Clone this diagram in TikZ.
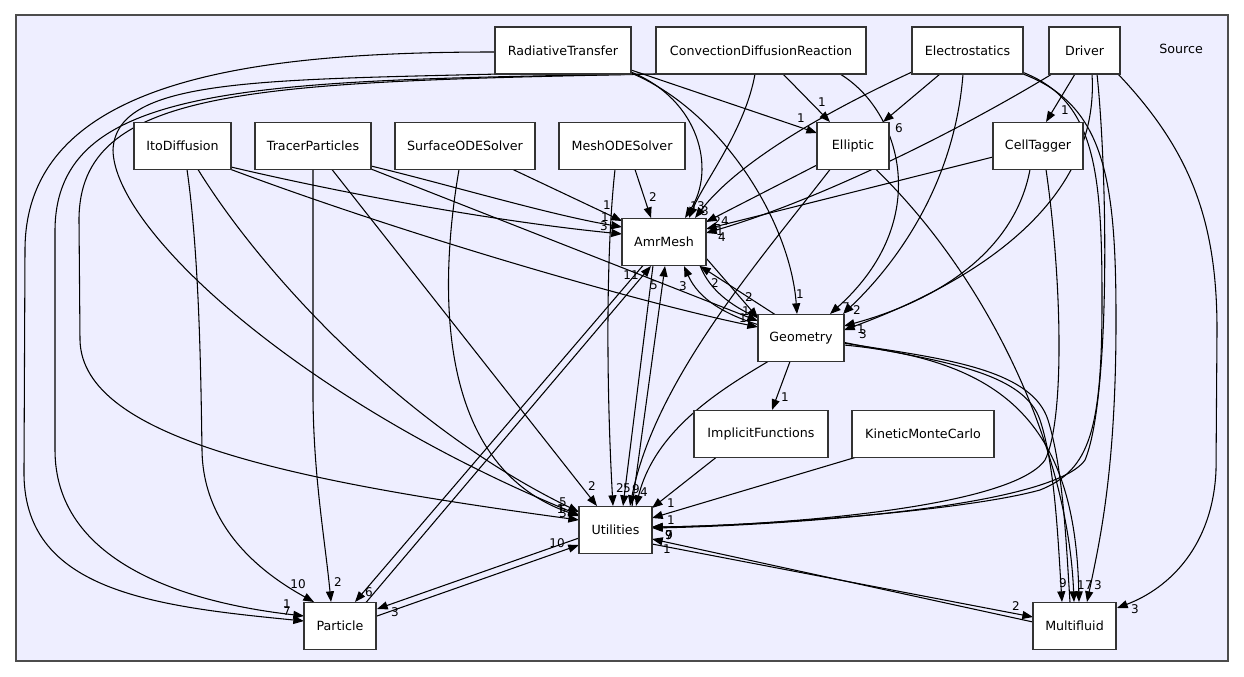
\documentclass[tikz,border=0pt]{standalone}
\usepackage{fontspec}
\setmainfont{DejaVu Sans}
\usetikzlibrary{arrows.meta}
\pgfdeclarelayer{bg}
\pgfdeclarelayer{edges}
\pgfsetlayers{bg,edges,main}
\begin{document}
\begin{tikzpicture}[x=0.75pt,y=-0.75pt,
  box/.style={draw=black!80, fill=white, line width=0.8pt, minimum height=35.25pt, inner sep=0pt, font=\fontsize{9.5}{11}\selectfont},
  dep/.style={draw=black, line width=0.8pt, -{Triangle[length=8pt,width=6pt]}},
  lbl/.style={font=\fontsize{9}{10}\selectfont, inner sep=0pt},
  cluster/.style={draw=black!70, fill={rgb,255:red,238;green,238;blue,255}, line width=1pt}]
\useasboundingbox (0,0) rectangle (1244,677);
% nodes
\node[box, minimum width=102pt]   (RT)   at (563,50.5)   {RadiativeTransfer};
\node[box, minimum width=157.5pt] (CDR)  at (761,50.5)   {ConvectionDiffusionReaction};
\node[box, minimum width=83.25pt] (ES)   at (967.5,50.5) {Electrostatics};
\node[box, minimum width=53.25pt] (DR)   at (1084.5,50.5){Driver};
\node[font=\fontsize{9.5}{11}\selectfont] (SRC) at (1181,49) {Source};
\node[box, minimum width=72.75pt] (ITO)  at (182.5,146)  {ItoDiffusion};
\node[box, minimum width=87pt]    (TP)   at (313,146)    {TracerParticles};
\node[box, minimum width=105pt]   (SODE) at (465,146)    {SurfaceODESolver};
\node[box, minimum width=94.5pt]  (MODE) at (622,146)    {MeshODESolver};
\node[box, minimum width=54pt]    (ELL)  at (853,146)    {Elliptic};
\node[box, minimum width=67.5pt]  (CT)   at (1038,146)   {CellTagger};
\node[box, minimum width=63pt]    (AMR)  at (664,242)    {AmrMesh};
\node[box, minimum width=64.5pt]  (GEO)  at (801,338)    {Geometry};
\node[box, minimum width=100.5pt] (IF)   at (761,434)    {ImplicitFunctions};
\node[box, minimum width=106.5pt] (KMC)  at (923,434)    {KineticMonteCarlo};
\node[box, minimum width=54.75pt] (UT)   at (615.5,530)  {Utilities};
\node[box, minimum width=54pt]    (PA)   at (340,626)    {Particle};
\node[box, minimum width=62.25pt] (MF)   at (1074.5,626) {Multifluid};
\begin{pgfonlayer}{bg}
\fill[white] (0,0) rectangle (1244,677);
\draw[cluster] (16,15) rectangle (1228,661);
\end{pgfonlayer}
\begin{pgfonlayer}{edges}
% RadiativeTransfer / ConvectionDiffusionReaction
\draw[dep] ([shift={(-68,1.5)}]RT.center) .. controls (250,52) and (25,80) .. (25,250) -- (24,470) .. controls (22,590) and (150,606) .. ([shift={(-36,-5)}]PA.center) node[lbl] at (287,604) {1};
\draw[dep] ([shift={(-105,23.5)}]CDR.center) .. controls (250,80) and (56,84) .. (55,230) -- (55,450) .. controls (55,560) and (180,602) .. ([shift={(-36,-10)}]PA.center) node[lbl] at (287,611) {7};
\draw[dep] ([shift={(-104,23.5)}]CDR.center) .. controls (250,82) and (79,88) .. (79,220) -- (80,340) .. controls (82,440) and (300,482) .. ([shift={(-36.5,-10)}]UT.center) node[lbl] at (561,509) {1};
\draw[dep] ([shift={(-63,23.5)}]RT.center) .. controls (250,80) and (116,80) .. (113,150) .. controls (114,230) and (300,400) .. ([shift={(-36.5,-15)}]UT.center) node[lbl] at (563,513) {3};
\draw[dep] ([shift={(68,19.5)}]RT.center) -- ([shift={(-36,-13)}]ELL.center) node[lbl] at (801,118) {1};
\draw[dep] ([shift={(68,21.5)}]RT.center) .. controls (700,100) and (716,170) .. ([shift={(21,-24)}]AMR.center) node[lbl] at (701,206) {3};
\draw[dep] ([shift={(68,22.5)}]RT.center) .. controls (720,110) and (790,220) .. ([shift={(-4,-24)}]GEO.center) node[lbl] at (800,294) {1};
\draw[dep] ([shift={(-6,23.5)}]CDR.center) .. controls (745,130) and (705,180) .. ([shift={(25,-24)}]AMR.center) node[lbl] at (694,206) {1};
\draw[dep] ([shift={(22,23.5)}]CDR.center) -- ([shift={(-23,-24)}]ELL.center) node[lbl] at (822,102) {1};
\draw[dep] ([shift={(79,23.5)}]CDR.center) .. controls (900,110) and (935,220) .. ([shift={(29,-24)}]GEO.center) node[lbl] at (846,307) {7};
% Electrostatics
\draw[dep] ([shift={(-55.5,21.5)}]ES.center) .. controls (830,110) and (740,160) .. ([shift={(31,-24)}]AMR.center) node[lbl] at (705,211) {3};
\draw[dep] ([shift={(-27.5,23.5)}]ES.center) -- ([shift={(30,-24)}]ELL.center) node[lbl] at (899,128) {6};
\draw[dep] ([shift={(-4.5,23.5)}]ES.center) .. controls (955,180) and (900,260) .. ([shift={(42,-24)}]GEO.center) node[lbl] at (857,310) {2};
\draw[dep] ([shift={(54.5,21.5)}]ES.center) .. controls (1095,100) and (1102,170) .. (1102,300) .. controls (1102,430) and (1090,470) .. (1040,490) .. controls (960,512) and (750,526) .. ([shift={(36.5,-3)}]UT.center) node[lbl] at (669,535) {9};
\draw[dep] ([shift={(55.5,23.5)}]ES.center) .. controls (1105,105) and (1116,180) .. (1116,320) .. controls (1116,470) and (1100,540) .. ([shift={(12.5,-24)}]MF.center) node[lbl] at (1098,585) {3};
% Driver
\draw[dep] ([shift={(-9.5,23.5)}]DR.center) -- ([shift={(8,-24)}]CT.center) node[lbl] at (1065,110) {1};
\draw[dep] ([shift={(-32.5,23.5)}]DR.center) .. controls (960,130) and (820,200) .. ([shift={(42,-9)}]AMR.center) node[lbl] at (722,237) {4};
\draw[dep] ([shift={(7.5,23.5)}]DR.center) .. controls (1100,200) and (980,280) .. ([shift={(43,-8)}]GEO.center) node[lbl] at (863,334) {3};
\draw[dep] ([shift={(12.5,23.5)}]DR.center) .. controls (1108,180) and (1110,400) .. (1085,460) .. controls (1050,510) and (760,526) .. ([shift={(36.5,-2)}]UT.center) node[lbl] at (669,535) {7};
\draw[dep] ([shift={(33.5,23.5)}]DR.center) .. controls (1190,150) and (1217,220) .. (1217,330) -- (1216,470) .. controls (1213,545) and (1170,588) .. ([shift={(42.5,-18)}]MF.center) node[lbl] at (1135,609) {3};
% CellTagger
\draw[dep] ([shift={(-45,11)}]CT.center) -- ([shift={(42,-13)}]AMR.center) node[lbl] at (720,231) {1};
\draw[dep] ([shift={(-8,23.5)}]CT.center) .. controls (1015,250) and (940,300) .. ([shift={(43,-12)}]GEO.center) node[lbl] at (861,329) {1};
\draw[dep] ([shift={(8,23.5)}]CT.center) .. controls (1062,280) and (1065,420) .. (1045,460) .. controls (1010,510) and (760,526) .. ([shift={(36.5,-3)}]UT.center) node[lbl] at (669,535) {9};
% ItoDiffusion
\draw[dep] ([shift={(48.5,21)}]ITO.center) .. controls (350,195) and (500,222) .. ([shift={(-42,-8)}]AMR.center) node[lbl] at (604,226) {3};
\draw[dep] ([shift={(48.5,23.5)}]ITO.center) .. controls (420,240) and (650,305) .. ([shift={(-43,-11)}]GEO.center) node[lbl] at (743,318) {1};
\draw[dep] ([shift={(15.5,23.5)}]ITO.center) .. controls (260,270) and (400,425) .. ([shift={(-36.5,-18)}]UT.center) node[lbl] at (563,502) {5};
\draw[dep] ([shift={(4.5,23.5)}]ITO.center) .. controls (200,260) and (201,390) .. (202,450) .. controls (203,530) and (265,575) .. ([shift={(-26,-24)}]PA.center) node[lbl] at (298,584) {10};
% TracerParticles
\draw[dep] ([shift={(58,20)}]TP.center) .. controls (450,185) and (550,215) .. ([shift={(-42,-15)}]AMR.center) node[lbl] at (605,217) {1};
\draw[dep] ([shift={(58,23)}]TP.center) -- ([shift={(-43,-17)}]GEO.center) node[lbl] at (746,311) {1};
\draw[dep] ([shift={(19,23.5)}]TP.center) -- ([shift={(-18.5,-24)}]UT.center) node[lbl] at (592,486) {2};
\draw[dep] ([shift={(0,23.5)}]TP.center) -- (313,400) .. controls (314,480) and (325,540) .. ([shift={(-9,-24)}]PA.center) node[lbl] at (338,582) {2};
% SurfaceODESolver / MeshODESolver
\draw[dep] ([shift={(48,23.5)}]SODE.center) -- ([shift={(-42,-21)}]AMR.center) node[lbl] at (607,205) {1};
\draw[dep] ([shift={(-6,23.5)}]SODE.center) .. controls (440,280) and (432,465) .. ([shift={(-36.5,-14)}]UT.center) node[lbl] at (561,509) {1};
\draw[dep] ([shift={(13,23.5)}]MODE.center) -- ([shift={(-13,-24)}]AMR.center) node[lbl] at (653,197) {2};
\draw[dep] ([shift={(-7,23.5)}]MODE.center) .. controls (605,260) and (607,400) .. ([shift={(-2.5,-24)}]UT.center) node[lbl] at (620,488) {2};
% Elliptic
\draw[dep] ([shift={(-36,19)}]ELL.center) -- ([shift={(42,-20)}]AMR.center) node[lbl] at (721,221) {24};
\draw[dep] ([shift={(-23,23.5)}]ELL.center) .. controls (760,260) and (655,380) .. ([shift={(14.5,-24)}]UT.center) node[lbl] at (636,489) {9};
\draw[dep] ([shift={(23,23.5)}]ELL.center) .. controls (990,280) and (1068,450) .. ([shift={(-0.5,-24)}]MF.center) node[lbl] at (1081,585) {1};
% AmrMesh
\draw[dep] ([shift={(42,16)}]AMR.center) -- ([shift={(-43,-20)}]GEO.center) node[lbl] at (749,297) {2};
\draw[dep] ([shift={(-26,-23.5)}]GEO.center) -- ([shift={(36,24)}]AMR.center) node[lbl] at (715,283) {2};
\draw[dep] ([shift={(-11,23.5)}]AMR.center) -- ([shift={(7.5,-24)}]UT.center) node[lbl] at (627,488) {5};
\draw[dep] ([shift={(16.5,-23.5)}]UT.center) -- ([shift={(1,24)}]AMR.center) node[lbl] at (654,285) {5};
\draw[dep] ([shift={(-21,23.5)}]AMR.center) -- ([shift={(15,-24)}]PA.center) node[lbl] at (369,592) {6};
\draw[dep] ([shift={(26,-23.5)}]PA.center) -- ([shift={(-13,24)}]AMR.center) node[lbl] at (631,275) {11};
\draw[dep] ([shift={(36,23.5)}]AMR.center) .. controls (740,370) and (1010,330) .. (1040,420) .. controls (1055,465) and (1058,540) .. ([shift={(-12.5,-24)}]MF.center) node[lbl] at (1063,583) {9};
\draw[dep] ([shift={(-4.5,-23.5)}]MF.center) .. controls (1066,540) and (1063,468) .. (1048,420) .. controls (1018,325) and (730,370) .. ([shift={(20,24)}]AMR.center) node[lbl] at (683,286) {3};
% Geometry
\draw[dep] ([shift={(-11,23.5)}]GEO.center) -- ([shift={(11,-24)}]IF.center) node[lbl] at (785,397) {1};
\draw[dep] ([shift={(-33,23.5)}]GEO.center) .. controls (720,390) and (655,430) .. ([shift={(20.5,-24)}]UT.center) node[lbl] at (644,492) {4};
\draw[dep] ([shift={(43,7)}]GEO.center) .. controls (1000,360) and (1075,420) .. ([shift={(4.5,-24)}]MF.center) node[lbl] at (1089,585) {7};
% lower part
\draw[dep] ([shift={(-45,23.5)}]IF.center) -- ([shift={(36.5,-22)}]UT.center) node[lbl] at (671,503) {1};
\draw[dep] ([shift={(-68,23.5)}]KMC.center) -- ([shift={(36.5,-12)}]UT.center) node[lbl] at (671,520) {1};
\draw[dep] ([shift={(-36.5,8)}]UT.center) -- ([shift={(37,-17)}]PA.center) node[lbl] at (395,612) {3};
\draw[dep] ([shift={(37,-10)}]PA.center) -- ([shift={(-36.5,15)}]UT.center) node[lbl] at (557,543) {10};
\draw[dep] ([shift={(36.5,14)}]UT.center) -- ([shift={(-41.5,-9)}]MF.center) node[lbl] at (1016,606) {2};
\draw[dep] ([shift={(-41.5,-4)}]MF.center) -- ([shift={(36.5,9)}]UT.center) node[lbl] at (667,549) {1};
\end{pgfonlayer}
\end{tikzpicture}
\end{document}
